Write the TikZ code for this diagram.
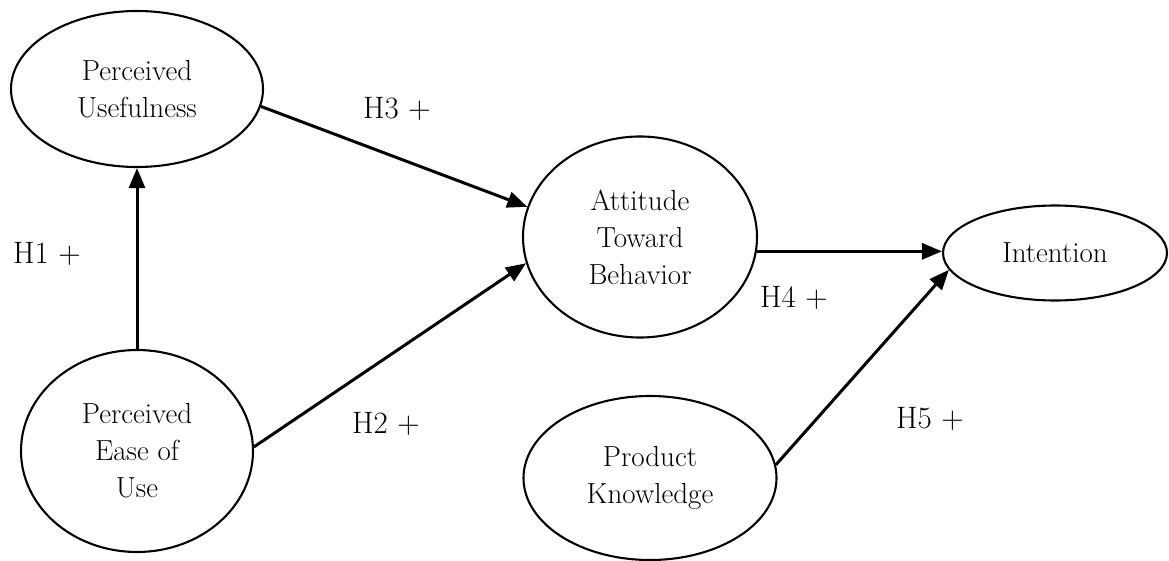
\documentclass[tikz,border=0pt]{standalone}
\usetikzlibrary{arrows.meta,shapes.geometric}
\begin{document}
\begin{tikzpicture}[x=1pt,y=-1pt,
  construct/.style={draw,line width=2.1pt,ellipse,inner sep=0pt,align=center,
    font=\fontsize{29}{37}\selectfont},
  link/.style={line width=3pt,-{Triangle[length=20pt,width=16pt]}},
  hyp/.style={anchor=base west,inner sep=0pt,font=\fontsize{31}{33}\selectfont}]
\useasboundingbox (0,0) rectangle (1169,561);
\node[construct,minimum width=252pt,minimum height=156pt] (pu) at (137,89) {Perceived\\Usefulness};
\node[construct,minimum width=232pt,minimum height=202pt] (peu) at (137,451) {Perceived\\Ease of\\Use};
\node[construct,minimum width=234pt,minimum height=201pt] (atb) at (640,237) {Attitude\\Toward\\Behavior};
\node[construct,minimum width=224pt,minimum height=95pt] (int) at (1055,253) {Intention};
\node[construct,minimum width=253pt,minimum height=164pt] (pk) at (650,478) {Product\\Knowledge};
\draw[link] (peu.north) -- (pu.south);
\draw[link] (pu.-8) -- (atb.165);
\draw[link] (peu.2) -- (atb.193);
\draw[link] (atb.-7) -- (atb.-7 -| int.west);
\draw[link] (pk.6) -- (int.189);
\node[hyp] (h1) at (13,264) {H1 +};
\node[hyp] (h2) at (352,433) {H2 +};
\node[hyp] (h3) at (363,119) {H3 +};
\node[hyp] (h4) at (760,307) {H4 +};
\node[hyp] (h5) at (896,428) {H5 +};
\end{tikzpicture}
\end{document}
